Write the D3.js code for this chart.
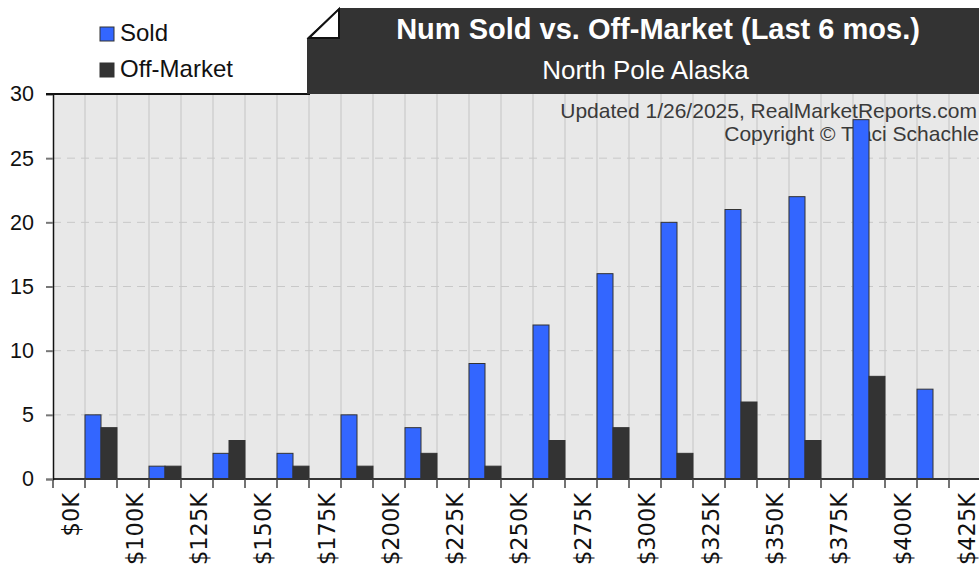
<!DOCTYPE html>
<html>
<head>
<meta charset="utf-8">
<script src="https://cdn.jsdelivr.net/npm/d3@7"></script>
<style>
  body { margin: 0; background: #fff; }
  svg { display: block; }
</style>
</head>
<body>
<svg id="chart"></svg>
<script>
// price buckets and counts
const categories = ["$0K", "$100K", "$125K", "$150K", "$175K", "$200K", "$225K", "$250K",
  "$275K", "$300K", "$325K", "$350K", "$375K", "$400K", "$425K"];
const soldValues = [5, 1, 2, 2, 5, 4, 9, 12, 16, 20, 21, 22, 28, 7, 0];
const offMarketValues = [4, 1, 3, 1, 1, 2, 1, 3, 4, 2, 6, 3, 8, 0, 0];
const yTicks = [0, 5, 10, 15, 20, 25, 30];
const seriesNames = ["Sold", "Off-Market"];
const seriesColors = ["#3366ff", "#333333"];

const W = 979, H = 569;
const margin = { top: 94, left: 53, bottom: 90 };
const bandW = 64;
const plotH = H - margin.top - margin.bottom; // 385

const svg = d3.select("#chart").attr("width", W).attr("height", H);

const x = d3.scaleBand()
  .domain(categories)
  .range([margin.left, margin.left + bandW * categories.length])
  .paddingInner(0).paddingOuter(0);

// bars sit in the right half of each bucket
const xSub = d3.scaleBand().domain(seriesNames).range([x.bandwidth() / 2, x.bandwidth()]);

const y = d3.scaleLinear().domain([0, 30]).range([margin.top + plotH, margin.top]);

// plot background
svg.append("rect")
  .attr("x", margin.left).attr("y", margin.top)
  .attr("width", W - margin.left).attr("height", plotH)
  .attr("fill", "#e8e8e8");

// vertical grid every half bucket
const halfPos = [];
categories.forEach(c => { halfPos.push(x(c)); halfPos.push(x(c) + x.bandwidth() / 2); });
svg.append("g").selectAll("line").data(halfPos.slice(1)).join("line")
  .attr("x1", d => d).attr("x2", d => d)
  .attr("y1", margin.top).attr("y2", y(0))
  .attr("stroke", "#c4c4c4").attr("stroke-width", 1);

// horizontal dashed grid
svg.append("g").selectAll("line").data(yTicks.filter(t => t > 0 && t < 30)).join("line")
  .attr("x1", margin.left).attr("x2", W)
  .attr("y1", d => y(d)).attr("y2", d => y(d))
  .attr("stroke", "#c8c8c8").attr("stroke-dasharray", "8,6");

// watermark text (sits behind the bars)
const wm = svg.append("g")
  .attr("font-family", "Liberation Sans, Arial, sans-serif")
  .attr("font-size", 21).attr("fill", "#3a3a3a").attr("text-anchor", "end");
wm.append("text").attr("x", 977).attr("y", 118).text("Updated 1/26/2025, RealMarketReports.com");
wm.append("text").attr("x", 979).attr("y", 141).text("Copyright \u00a9 Traci Schachle");

// bars
const rows = categories.map((c, i) => ({ cat: c, vals: [soldValues[i], offMarketValues[i]] }));
const groups = svg.append("g").selectAll("g").data(rows).join("g")
  .attr("transform", d => `translate(${x(d.cat)},0)`);
groups.selectAll("rect")
  .data(d => d.vals.map((v, k) => ({ key: seriesNames[k], v, k })).filter(b => b.v > 0))
  .join("rect")
  .attr("x", b => xSub(b.key))
  .attr("y", b => y(b.v))
  .attr("width", xSub.bandwidth())
  .attr("height", b => y(0) - y(b.v))
  .attr("fill", b => seriesColors[b.k])
  .attr("stroke", "#333")
  .attr("stroke-width", 1);

// x axis line and ticks
svg.append("line")
  .attr("x1", margin.left).attr("x2", W)
  .attr("y1", y(0)).attr("y2", y(0))
  .attr("stroke", "#333").attr("stroke-width", 2);
svg.append("g").selectAll("line").data(halfPos).join("line")
  .attr("x1", d => d).attr("x2", d => d)
  .attr("y1", y(0)).attr("y2", y(0) + 9)
  .attr("stroke", "#444").attr("stroke-width", 1.5);

// x labels, rotated
svg.append("g").selectAll("text").data(categories).join("text")
  .attr("transform", d => `translate(${x(d) + 18},${y(0) + 14}) rotate(-90)`)
  .attr("dy", "0.36em")
  .attr("text-anchor", "end")
  .attr("font-family", "DejaVu Sans, sans-serif")
  .attr("font-size", 22.5)
  .attr("fill", "#111")
  .text(d => d);

// y axis
const yAxis = svg.append("g")
  .attr("transform", `translate(${margin.left},0)`)
  .call(d3.axisLeft(y).tickValues(yTicks).tickSize(7).tickPadding(12));
yAxis.select(".domain").attr("stroke", "#111").attr("stroke-width", 1.5);
yAxis.selectAll(".tick line").attr("stroke", "#777").attr("stroke-width", 2);
yAxis.selectAll(".tick text")
  .attr("font-family", "Liberation Sans, Arial, sans-serif")
  .attr("font-size", 21.5).attr("fill", "#111");

// top border line of plot
svg.append("line")
  .attr("x1", margin.left - 7).attr("x2", 310)
  .attr("y1", margin.top).attr("y2", margin.top)
  .attr("stroke", "#111").attr("stroke-width", 2);

// title banner with folded corner
svg.append("path")
  .attr("d", "M307,94 L307,38 L339,8 L979,8 L979,94 Z")
  .attr("fill", "#333333");
svg.append("path")
  .attr("d", "M309,38 L339,9 L339,38 Z")
  .attr("fill", "#fff").attr("stroke", "#111").attr("stroke-width", 2);

svg.append("text")
  .attr("x", 658).attr("y", 38.5)
  .attr("text-anchor", "middle")
  .attr("font-family", "Liberation Sans, Arial, sans-serif")
  .attr("font-weight", "bold").attr("font-size", 29).attr("fill", "#fff")
  .text("Num Sold vs. Off-Market (Last 6 mos.)");
svg.append("text")
  .attr("x", 645.5).attr("y", 79)
  .attr("text-anchor", "middle")
  .attr("font-family", "Liberation Sans, Arial, sans-serif")
  .attr("font-size", 26).attr("fill", "#fff")
  .text("North Pole Alaska");

// legend
const legend = svg.append("g")
  .attr("font-family", "Liberation Sans, Arial, sans-serif").attr("font-size", 24);
seriesNames.forEach((name, i) => {
  const ly = 27 + i * 36;
  legend.append("rect")
    .attr("x", 100).attr("y", ly).attr("width", 14).attr("height", 14)
    .attr("fill", seriesColors[i]).attr("stroke", "#333").attr("stroke-width", 1);
  legend.append("text")
    .attr("x", 120).attr("y", ly + 14).attr("fill", "#111").text(name);
});
</script>
</body>
</html>
